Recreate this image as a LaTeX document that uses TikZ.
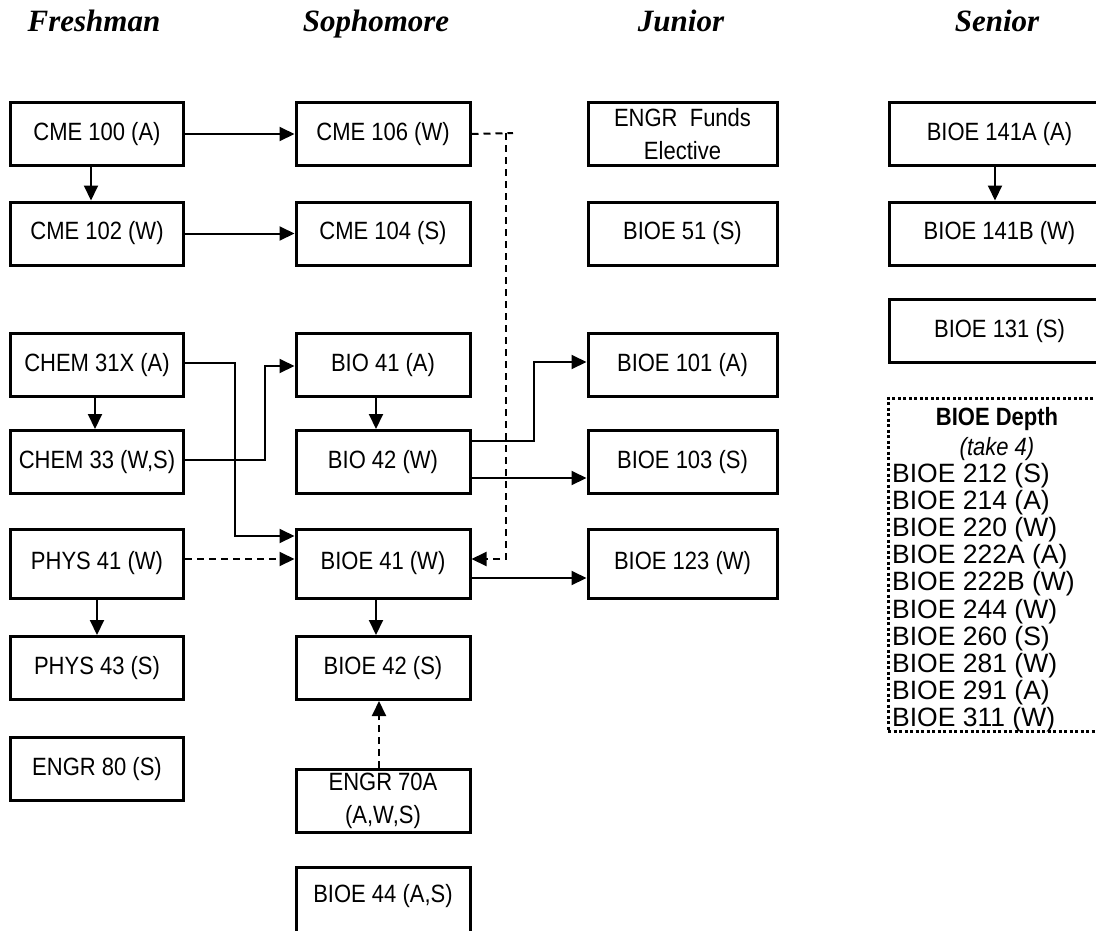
\documentclass[tikz,border=0pt]{standalone}
\usepackage{fontspec}
\setmainfont{Liberation Serif}
\newfontfamily\narrowfont[FakeStretch=0.88]{Liberation Sans}
\newfontfamily\listfont{Liberation Sans}
\usetikzlibrary{arrows.meta}

\begin{document}
\begin{tikzpicture}[x=1pt,y=-1pt,
  course/.style={draw, line width=3pt, rectangle, inner sep=0pt, outer sep=1.5pt,
    align=center, font=\narrowfont\fontsize{25}{33}\selectfont, minimum height=63pt},
  fr/.style={course, minimum width=173pt},
  so/.style={course, minimum width=174pt},
  ju/.style={course, minimum width=189pt},
  se/.style={course, minimum width=220pt},
  tall/.style={minimum height=69pt},
  yearlabel/.style={font=\fontsize{31}{36}\selectfont\bfseries\itshape, anchor=base, inner sep=0pt},
  link/.style={line width=2pt, -{Triangle[length=15pt,width=14pt]}},
  hint/.style={link, dash pattern=on 7pt off 5pt},
  listitem/.style={font=\listfont\fontsize{26.5}{27}\selectfont, anchor=base west, inner sep=0pt}
]
\useasboundingbox (0,0) rectangle (1096,930);
\clip (0,0) rectangle (1096,930);

% year headings
\node[yearlabel] (hfr) at (94,31)  {Freshman};
\node[yearlabel] (hso) at (376,31) {Sophomore};
\node[yearlabel] (hju) at (681,31) {Junior};
\node[yearlabel] (hse) at (997,31) {Senior};

% freshman
\node[fr] (cme100)  at (97,134)   {CME 100 (A)};
\node[fr] (cme102)  at (97,233.5) {CME 102 (W)};
\node[fr] (chem31x) at (97,365)   {CHEM 31X (A)};
\node[fr] (chem33)  at (97,462)   {CHEM 33 (W,S)};
\node[fr,tall] (phys41) at (97,563.5) {PHYS 41 (W)};
\node[fr] (phys43)  at (97,668)   {PHYS 43 (S)};
\node[fr] (engr80)  at (97,769)   {ENGR 80 (S)};

% sophomore
\node[so] (cme106)  at (383,134)   {CME 106 (W)};
\node[so] (cme104)  at (383,233.5) {CME 104 (S)};
\node[so] (bio41)   at (383,365)   {BIO 41 (A)};
\node[so] (bio42)   at (383,462)   {BIO 42 (W)};
\node[so,tall] (bioe41) at (383,563.5) {BIOE 41 (W)};
\node[so] (bioe42)  at (383,668)   {BIOE 42 (S)};
\node[so] (engr70a) at (383,801)   {ENGR 70A\\(A,W,S)};
\node[so,minimum height=100pt] (bioe44) at (383,917.5) {};
\node[font=\narrowfont\fontsize{25}{33}\selectfont, inner sep=0pt] (bioe44text) at (383,896) {BIOE 44 (A,S)};

% junior
\node[ju] (engrf)   at (682.5,134)   {ENGR\ \ Funds\\Elective};
\node[ju] (bioe51)  at (682.5,233.5) {BIOE 51 (S)};
\node[ju] (bioe101) at (682.5,365)   {BIOE 101 (A)};
\node[ju] (bioe103) at (682.5,462)   {BIOE 103 (S)};
\node[ju,tall] (bioe123) at (682.5,563.5) {BIOE 123 (W)};

% senior
\node[se] (bioe141a) at (999.5,134)   {BIOE 141A (A)};
\node[se] (bioe141b) at (999.5,233.5) {BIOE 141B (W)};
\node[se] (bioe131)  at (999.5,331)   {BIOE 131 (S)};

% depth electives
\node[draw, line width=3pt, dash pattern=on 3pt off 2.5pt, inner sep=0pt,
      minimum width=222pt, minimum height=333pt] (depth) at (999,564.5) {};
\node[font=\narrowfont\bfseries\fontsize{25}{30}\selectfont, anchor=base, inner sep=0pt]
  (depthtitle) at (997,425) {BIOE Depth};
\node[font=\narrowfont\itshape\fontsize{25}{30}\selectfont, anchor=base, inner sep=0pt]
  (depthnote) at (997,455) {(take 4)};
\node[listitem] (d212)  at (892,482.0) {BIOE 212 (S)};
\node[listitem] (d214)  at (892,509.2) {BIOE 214 (A)};
\node[listitem] (d220)  at (892,536.4) {BIOE 220 (W)};
\node[listitem] (d222a) at (892,563.6) {BIOE 222A (A)};
\node[listitem] (d222b) at (892,590.8) {BIOE 222B (W)};
\node[listitem] (d244)  at (892,618.0) {BIOE 244 (W)};
\node[listitem] (d260)  at (892,645.2) {BIOE 260 (S)};
\node[listitem] (d281)  at (892,672.4) {BIOE 281 (W)};
\node[listitem] (d291)  at (892,699.6) {BIOE 291 (A)};
\node[listitem] (d311)  at (892,726.8) {BIOE 311 (W)};

% route corners
\coordinate (jog)  at (506,133);
\coordinate (tail) at (513,133);
\coordinate (c1) at (235,536);
\coordinate (c2) at (265,366);
\coordinate (c3) at (534,362);

% prerequisites
\draw[link] ([xshift=-6pt]cme100.south) -- ([xshift=-6pt]cme102.north);
\draw[link] (cme100.east) -- (cme106.west);
\draw[link] (cme102.east) -- (cme104.west);
\draw[line width=2pt, dash pattern=on 7pt off 5pt] (cme106.east) -- (tail);
\draw[hint] (jog) |- ([yshift=4.5pt]bioe41.east);

\draw[link] ([xshift=-2pt]chem31x.south) -- ([xshift=-2pt]chem33.north);
\draw[link] ([yshift=2pt]chem31x.east) -| (c1) -- ([yshift=27.5pt]bioe41.west);
\draw[link] ([yshift=2pt]chem33.east) -| (c2) -- ([yshift=-1pt]bio41.west);
\draw[link] ([xshift=-7pt]bio41.south) -- ([xshift=-7pt]bio42.north);

\draw[hint] ([yshift=4.5pt]phys41.east) -- ([yshift=4.5pt]bioe41.west);
\draw[link] (phys41.south) -- (phys43.north);

\draw[link] ([yshift=21pt]bio42.east) -| (c3) -- ([yshift=3pt]bioe101.west);
\draw[link] ([yshift=-16pt]bio42.east) -- ([yshift=-16pt]bioe103.west);
\draw[link] ([yshift=-14.5pt]bioe41.east) -- ([yshift=-14.5pt]bioe123.west);
\draw[link] ([xshift=-7pt]bioe41.south) -- ([xshift=-7pt]bioe42.north);
\draw[hint] ([xshift=-4pt]engr70a.north) -- ([xshift=-4pt]bioe42.south);

\draw[link] ([xshift=-4.5pt]bioe141a.south) -- ([xshift=-4.5pt]bioe141b.north);
\end{tikzpicture}
\end{document}
